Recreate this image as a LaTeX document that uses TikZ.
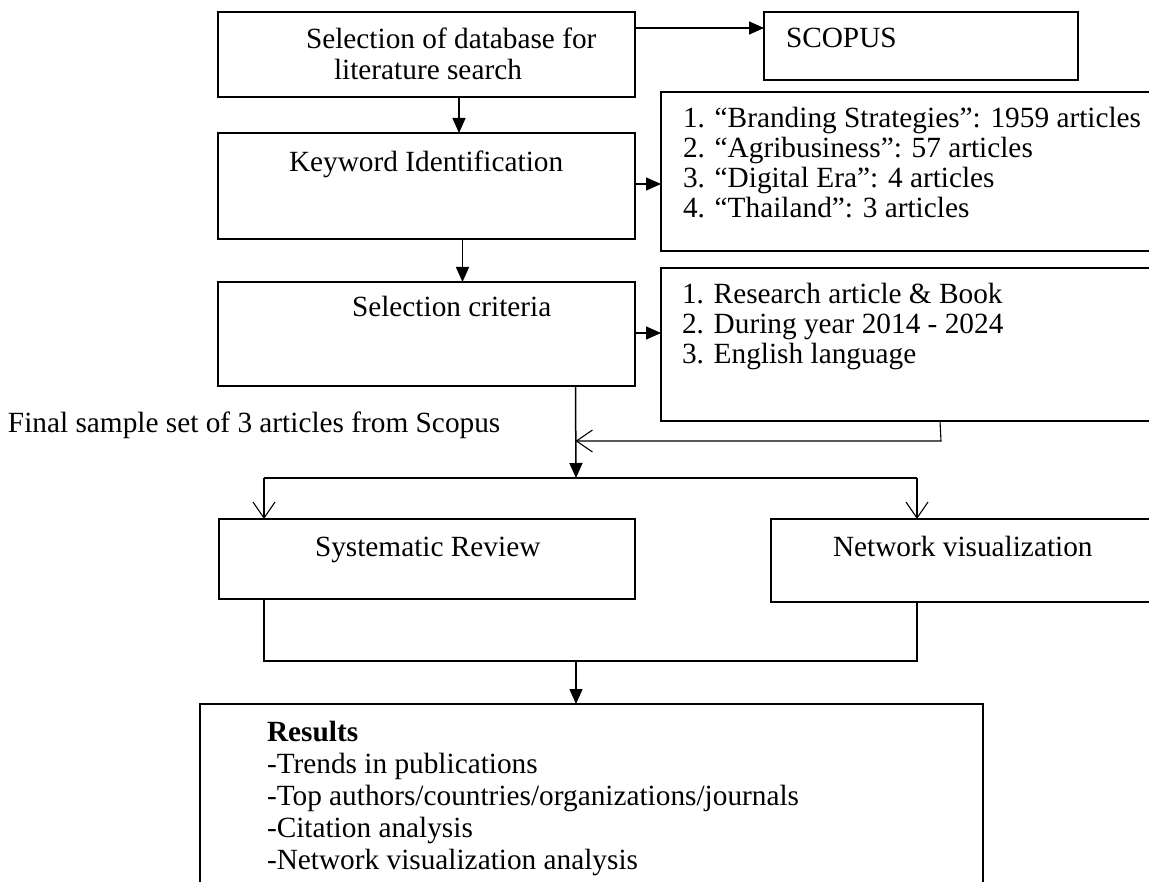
\documentclass[tikz,border=0pt]{standalone}
\usepackage{fontspec}
\setmainfont{Liberation Serif}
\usetikzlibrary{arrows.meta}
\tikzset{
  box/.style={draw, line width=2pt, rectangle, inner sep=0pt, outer sep=0pt, anchor=north west},
  txt/.style={font=\fontsize{29.3pt}{30pt}\selectfont, anchor=base west, inner sep=0pt, outer sep=0pt},
  conn/.style={line width=1.5pt},
  arr/.style={line width=1.5pt, -{Triangle[length=15pt,width=13pt]}},
  oarr/.style={line width=1.1pt, -{Straight Barb[length=16pt,width=22pt]}}
}
\begin{document}
\begin{tikzpicture}[x=1pt,y=-1pt]
\useasboundingbox (0,0) rectangle (1149,882);
\fill[white] (0,0) rectangle (1149,882);
\clip (0,0) rectangle (1149,882);

% boxes
\node[box, minimum width=417pt, minimum height=85pt] (b1) at (218,12) {};
\node[box, minimum width=314pt, minimum height=68pt] (scopus) at (764,12) {};
\node[box, minimum width=417pt, minimum height=106pt] (b2) at (218,133) {};
\node[box, minimum width=600pt, minimum height=159pt] (kw) at (661,92) {};
\node[box, minimum width=417pt, minimum height=104pt] (b3) at (218,282) {};
\node[box, minimum width=600pt, minimum height=153pt] (crit) at (661,268) {};
\node[box, minimum width=416pt, minimum height=80pt] (sys) at (219,519) {};
\node[box, minimum width=500pt, minimum height=83pt] (net) at (771,519) {};
\node[box, minimum width=783pt, minimum height=250pt] (res) at (200,704) {};

% texts
\node[txt] (t1a) at (306,49) {Selection of database for};
\node[txt] (t1b) at (334,80) {literature search};
\node[txt] (tsc) at (786,48) {SCOPUS};
\node[txt] (t2) at (289,172) {Keyword Identification};
\node[txt] (k1) at (683,128) {1. “Branding Strategies”: 1959 articles};
\node[txt] (k2) at (683,158) {2. “Agribusiness”: 57 articles};
\node[txt] (k3) at (683,188) {3. “Digital Era”: 4 articles};
\node[txt] (k4) at (683,218) {4. “Thailand”: 3 articles};
\node[txt] (t3) at (352,317) {Selection criteria};
\node[txt] (c1t) at (682,304) {1. Research article \& Book};
\node[txt] (c2t) at (682,334) {2. During year 2014 - 2024};
\node[txt] (c3t) at (682,364) {3. English language};
\node[txt] (fin) at (8,433) {Final sample set of 3 articles from Scopus};
\node[txt] (tsys) at (315,556) {Systematic Review};
\node[txt] (tnet) at (833,556) {Network visualization};
\node[txt] (r0) at (267,741) {\textbf{Results}};
\node[txt] (r1) at (267,773) {-Trends in publications};
\node[txt] (r2) at (267,805) {-Top authors/countries/organizations/journals};
\node[txt] (r3) at (267,837) {-Citation analysis};
\node[txt] (r4) at (267,869) {-Network visualization analysis};

% connectors
\coordinate (c1) at ([yshift=-16pt]b1.north east);
\draw[arr] (c1) -- (c1 -| scopus.west);
\coordinate (c2) at ([xshift=32.5pt]b1.south);
\draw[arr] (c2) -- (c2 |- b2.north);
\coordinate (c3) at ([yshift=-51pt]b2.north east);
\draw[arr] (c3) -- (c3 -| kw.west);
\coordinate (c4) at ([xshift=36pt]b2.south);
\draw[arr] (c4) -- (c4 |- b3.north);
\coordinate (c5) at ([yshift=-51pt]b3.north east);
\draw[arr] (c5) -- (c5 -| crit.west);

\coordinate (c6) at ([xshift=149pt]b3.south);
\coordinate (sp) at (576,478);
\draw[arr] (c6) -- (sp);

\coordinate (e1) at ([xshift=279pt]crit.south west);
\coordinate (bend) at (941,441);
\draw[oarr] (e1) -- (bend) -- (bend -| c6);

\coordinate (d1) at ([xshift=45pt]sys.north west);
\coordinate (d2) at ([xshift=146pt]net.north west);
\draw[conn] (d1 |- sp) -- (d2 |- sp);
\draw[oarr] (d1 |- sp) -- (d1);
\draw[oarr] (d2 |- sp) -- (d2);

\coordinate (f1) at ([xshift=45pt]sys.south west);
\coordinate (f2) at ([xshift=146pt]net.south west);
\coordinate (m) at (576,661);
\draw[conn] (f1) -- (f1 |- m) -- (f2 |- m) -- (f2);
\draw[arr] (m) -- (m |- res.north);
\end{tikzpicture}
\end{document}
